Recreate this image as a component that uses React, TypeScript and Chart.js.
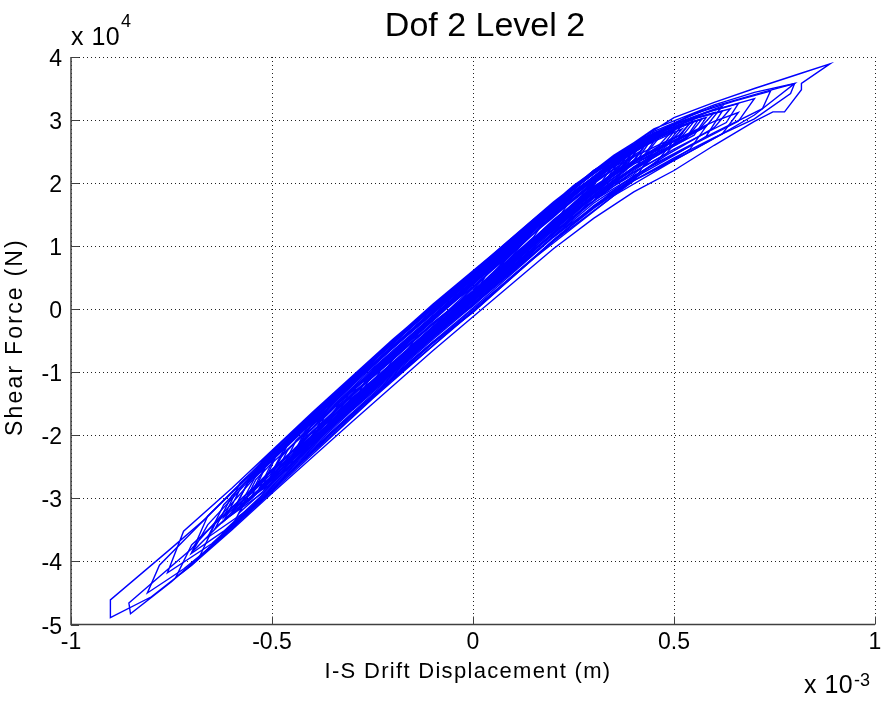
import React, { useEffect, useRef } from "react";
import { Chart, registerables } from "chart.js";

Chart.register(...registerables);

// Axis ticks (drift in 1e-3 m, shear in 1e4 N)
const xTickValues = [-1, -0.5, 0, 0.5, 1];
const xTickLabels = ["-1", "-0.5", "0", "0.5", "1"];
const yTickValues = [-5, -4, -3, -2, -1, 0, 1, 2, 3, 4];
const yTickLabels = ["-5", "-4", "-3", "-2", "-1", "0", "1", "2", "3", "4"];

const titleText = "Dof 2 Level 2";
const xLabelText = "I-S Drift Displacement (m)";
const yLabelText = "Shear Force (N)";

// Large cycles: [drift (x1e-3 m), shear (x1e4 N)]
const burstA: [number, number][] = [
  [0.0, 0.3],
  [0.1, 1.03], [0.2, 1.6], [0.3, 2.1], [0.4, 2.5], [0.45, 2.66],
  [0.41, 2.3], [0.3, 1.78], [0.2, 1.25], [0.0, 0.12], [-0.2, -0.96], [-0.4, -2.12], [-0.52, -2.76],
  [-0.48, -2.18], [-0.3, -1.09], [-0.1, 0.04], [0.1, 1.1], [0.25, 1.92], [0.4, 2.6], [0.5, 2.94], [0.62, 3.14],
  [0.58, 2.74], [0.5, 2.44], [0.4, 2.08], [0.3, 1.64], [0.1, 0.54], [-0.1, -0.54], [-0.3, -1.66], [-0.5, -2.84], [-0.65, -3.72], [-0.76, -4.18],
  [-0.72, -3.52], [-0.6, -2.84], [-0.4, -1.64], [-0.2, -0.48], [0.0, 0.6], [0.2, 1.7], [0.35, 2.44], [0.5, 3.04], [0.6, 3.28], [0.7, 3.5], [0.82, 3.75], [0.888, 3.89],
  [0.817, 3.58], [0.817, 3.48], [0.775, 3.13], [0.746, 3.13], [0.7, 2.98], [0.6, 2.6], [0.5, 2.2], [0.4, 1.86], [0.3, 1.44], [0.2, 0.96], [0.1, 0.42], [0.0, -0.12], [-0.1, -0.66], [-0.3, -1.78], [-0.5, -2.92], [-0.6, -3.5], [-0.7, -4.06], [-0.8, -4.56], [-0.902, -4.89],
  [-0.902, -4.61], [-0.756, -3.82], [-0.665, -3.32], [-0.5, -2.26], [-0.3, -1.06], [-0.1, 0.08], [0.1, 1.14], [0.3, 2.2], [0.45, 2.86], [0.6, 3.24], [0.7, 3.44], [0.8, 3.58],
  [0.79, 3.42], [0.7, 3.02], [0.6, 2.72], [0.5, 2.4], [0.4, 2.04], [0.2, 1.08], [0.0, -0.04], [-0.2, -1.12], [-0.4, -2.28], [-0.6, -3.46], [-0.75, -4.32], [-0.852, -4.83],
  [-0.856, -4.66], [-0.7, -3.8], [-0.55, -2.72], [-0.35, -1.44], [-0.15, -0.24], [0.05, 0.86], [0.25, 1.96], [0.4, 2.64], [0.55, 3.1], [0.65, 3.3], [0.74, 3.46],
  [0.72, 3.18], [0.6, 2.8], [0.45, 2.3], [0.3, 1.72], [0.1, 0.6], [-0.1, -0.48], [-0.3, -1.6], [-0.5, -2.8], [-0.62, -3.52], [-0.7, -3.87],
  [-0.66, -3.42], [-0.5, -2.32], [-0.3, -1.1], [-0.1, 0.02], [0.1, 1.08], [0.3, 2.16], [0.45, 2.8], [0.58, 3.12], [0.66, 3.26],
  [0.63, 2.96], [0.5, 2.54], [0.35, 1.98], [0.15, 0.94], [-0.05, -0.16], [-0.25, -1.28], [-0.45, -2.44], [-0.62, -3.36],
  [-0.58, -2.86], [-0.4, -1.74], [-0.2, -0.58], [0.0, 0.5], [0.2, 1.6], [0.35, 2.36], [0.48, 2.84], [0.58, 3.04],
  [0.55, 2.76], [0.42, 2.32], [0.25, 1.54], [0.05, 0.4], [-0.15, -0.68], [-0.35, -1.82], [-0.55, -2.96],
  [-0.51, -2.42], [-0.35, -1.46], [-0.15, -0.34], [0.05, 0.74], [0.25, 1.84], [0.4, 2.52], [0.52, 2.86],
  [0.48, 2.58], [0.35, 2.04], [0.15, 0.98], [-0.05, -0.12], [-0.25, -1.22], [-0.48, -2.5],
];

const burstB: [number, number][] = [
  [-0.1, -0.25],
  [0.1, 0.95], [0.3, 2.06], [0.45, 2.7], [0.55, 2.98],
  [0.51, 2.66], [0.4, 2.2], [0.2, 1.22], [0.0, 0.1], [-0.2, -1.0], [-0.4, -2.16], [-0.52, -2.9], [-0.6, -3.26],
  [-0.56, -2.74], [-0.4, -1.72], [-0.2, -0.54], [0.0, 0.56], [0.2, 1.66], [0.35, 2.4], [0.5, 2.92], [0.6, 3.16], [0.7, 3.34],
  [0.66, 2.98], [0.55, 2.62], [0.4, 2.12], [0.2, 1.14], [0.0, 0.02], [-0.2, -1.06], [-0.4, -2.22], [-0.56, -3.18], [-0.66, -3.62],
  [-0.62, -3.1], [-0.45, -1.98], [-0.25, -0.78], [-0.05, 0.32], [0.15, 1.42], [0.3, 2.2], [0.45, 2.82], [0.6, 3.22], [0.72, 3.44], [0.8, 3.58],
  [0.7, 3.08], [0.62, 2.78], [0.5, 2.36], [0.35, 1.8], [0.15, 0.8], [-0.05, -0.3], [-0.25, -1.42], [-0.45, -2.6], [-0.62, -3.6], [-0.72, -4.12], [-0.81, -4.5],
  [-0.78, -4.06], [-0.65, -3.22], [-0.45, -2.0], [-0.25, -0.82], [-0.05, 0.28], [0.15, 1.4], [0.3, 2.16], [0.45, 2.76], [0.56, 3.04], [0.64, 3.18],
  [0.6, 2.88], [0.48, 2.44], [0.3, 1.68], [0.1, 0.62], [-0.1, -0.46], [-0.3, -1.58], [-0.5, -2.74],
  [-0.46, -2.22], [-0.3, -1.18], [-0.1, -0.04], [0.1, 1.04], [0.3, 2.1], [0.42, 2.6], [0.5, 2.82],
  [0.46, 2.5], [0.32, 1.9], [0.12, 0.84], [-0.08, -0.28], [-0.28, -1.4], [-0.45, -2.4],
  [-0.41, -1.9], [-0.25, -0.88], [-0.05, 0.22], [0.15, 1.3], [0.32, 2.14], [0.42, 2.52],
  [0.38, 2.2], [0.22, 1.42], [0.02, 0.32], [-0.18, -0.8], [-0.38, -1.94],
];

const mediumCycles: [number, number][] = [
  [0.0, 0.28],
  [0.2, 1.5], [0.35, 2.28], [0.48, 2.8], [0.56, 3.0],
  [0.53, 2.72], [0.4, 2.26], [0.2, 1.28], [0.0, 0.16], [-0.2, -0.92], [-0.4, -2.08], [-0.5, -2.68], [-0.58, -3.12],
  [-0.54, -2.64], [-0.4, -1.8], [-0.2, -0.62], [0.0, 0.48], [0.2, 1.58], [0.35, 2.34], [0.46, 2.76], [0.54, 2.96],
  [0.5, 2.62], [0.38, 2.16], [0.2, 1.32], [0.0, 0.2], [-0.2, -0.9], [-0.4, -2.06], [-0.55, -3.0], [-0.64, -3.46],
  [-0.6, -2.96], [-0.45, -2.02], [-0.25, -0.88], [-0.05, 0.22], [0.15, 1.32], [0.32, 2.18], [0.46, 2.76], [0.57, 3.02],
  [0.53, 2.7], [0.4, 2.22], [0.22, 1.4], [0.02, 0.28], [-0.18, -0.82], [-0.38, -1.98], [-0.52, -2.84], [-0.6, -3.22],
  [-0.56, -2.76], [-0.4, -1.74], [-0.2, -0.58], [0.0, 0.52], [0.2, 1.62], [0.36, 2.38], [0.47, 2.78],
  [0.43, 2.46], [0.28, 1.82], [0.08, 0.7], [-0.12, -0.4], [-0.32, -1.54], [-0.5, -2.62],
  [-0.46, -2.14], [-0.28, -1.04], [-0.08, 0.1], [0.12, 1.18], [0.3, 2.1], [0.44, 2.7],
  [0.4, 2.36], [0.25, 1.64], [0.05, 0.5], [-0.15, -0.6], [-0.35, -1.76], [-0.53, -2.82],
  [-0.49, -2.3], [-0.32, -1.28], [-0.12, -0.14], [0.08, 0.96], [0.26, 1.92], [0.38, 2.44],
];

const smallCycles: [number, number][] = [
  [-0.05, 0.02],
  [0.1, 0.95], [0.25, 1.82], [0.35, 2.3],
  [0.32, 2.02], [0.15, 1.05], [-0.05, -0.06], [-0.2, -0.9], [-0.32, -1.6],
  [-0.29, -1.24], [-0.1, -0.12], [0.1, 1.0], [0.25, 1.84], [0.38, 2.42],
  [0.35, 2.12], [0.2, 1.32], [0.0, 0.2], [-0.2, -0.92], [-0.3, -1.48], [-0.4, -2.06],
  [-0.37, -1.72], [-0.2, -0.66], [0.0, 0.45], [0.2, 1.56], [0.3, 2.08], [0.4, 2.52],
  [0.37, 2.24], [0.2, 1.36], [0.0, 0.24], [-0.2, -0.86], [-0.36, -1.8],
  [-0.33, -1.46], [-0.15, -0.4], [0.05, 0.72], [0.2, 1.54], [0.3, 2.06],
  [0.27, 1.8], [0.1, 0.82], [-0.1, -0.32], [-0.25, -1.18],
  [-0.22, -0.86], [-0.05, 0.12], [0.12, 1.08], [0.25, 1.8],
  [0.22, 1.52], [0.05, 0.54], [-0.12, -0.44], [-0.28, -1.36],
  [-0.25, -1.02], [-0.08, -0.02], [0.1, 1.0], [0.22, 1.66], [0.32, 2.14],
  [0.29, 1.88], [0.12, 0.92], [-0.08, -0.22], [-0.22, -0.98], [-0.34, -1.7],
  [-0.31, -1.36], [-0.12, -0.28], [0.08, 0.86], [0.25, 1.8], [0.36, 2.32],
  [0.33, 2.04], [0.18, 1.24], [-0.02, 0.1], [-0.22, -1.0], [-0.35, -1.7], [-0.44, -2.26],
  [-0.41, -1.96], [-0.25, -0.98], [-0.05, 0.14], [0.15, 1.26], [0.3, 2.08], [0.44, 2.66],
  [0.41, 2.38], [0.25, 1.58], [0.05, 0.46], [-0.15, -0.66], [-0.35, -1.82], [-0.47, -2.46],
  [-0.44, -2.08], [-0.25, -0.94], [-0.05, 0.18], [0.15, 1.28], [0.3, 2.08], [0.4, 2.52],
  [0.36, 2.18], [0.18, 1.18], [-0.02, 0.06], [-0.2, -0.96], [-0.3, -1.52],
  [-0.27, -1.16], [-0.1, -0.18], [0.05, 0.68], [0.18, 1.42],
  [0.15, 1.14], [0.0, 0.26], [-0.15, -0.6], [-0.22, -1.0],
  [-0.19, -0.7], [-0.05, 0.1], [0.1, 0.96],
  [0.07, 0.68], [-0.08, -0.16], [-0.16, -0.62],
  [-0.13, -0.34], [0.04, 0.62],
  [0.01, 0.3], [-0.1, -0.3],
];

// Cycles riding on the upper side of the band
const upperDriftCycles: [number, number][] = [
  [-0.1, 0.0],
  [0.0, 0.49], [0.1, 1.1], [0.2, 1.62], [0.3, 2.19], [0.4, 2.58], [0.5, 2.86],
  [0.46, 2.58], [0.4, 2.34], [0.3, 1.95], [0.2, 1.38], [0.1, 0.86], [0.0, 0.25], [-0.1, -0.24], [-0.2, -0.76], [-0.3, -1.37], [-0.4, -1.95], [-0.45, -2.32],
  [-0.41, -1.9], [-0.3, -1.08], [-0.2, -0.56], [-0.1, 0.04], [0.0, 0.53], [0.1, 1.06], [0.2, 1.66], [0.3, 2.15], [0.4, 2.62], [0.5, 2.9], [0.55, 3.02],
  [0.51, 2.74], [0.4, 2.36], [0.3, 1.91], [0.2, 1.42], [0.1, 0.82], [0.0, 0.29], [-0.1, -0.22], [-0.2, -0.8], [-0.3, -1.33], [-0.4, -1.96], [-0.5, -2.58],
  [-0.46, -2.1], [-0.4, -1.68], [-0.3, -1.13], [-0.2, -0.52], [-0.1, 0.0], [0.0, 0.53], [0.1, 1.05], [0.2, 1.66], [0.3, 2.15], [0.4, 2.62], [0.45, 2.76],
  [0.41, 2.46], [0.3, 1.93], [0.2, 1.38], [0.1, 0.86], [0.0, 0.25], [-0.1, -0.24], [-0.2, -0.78], [-0.3, -1.35], [-0.4, -1.94], [-0.5, -2.56], [-0.55, -2.9],
  [-0.51, -2.4], [-0.4, -1.68], [-0.3, -1.09], [-0.2, -0.56], [-0.1, 0.04], [0.0, 0.49], [0.1, 1.1], [0.2, 1.62], [0.3, 2.19], [0.4, 2.58], [0.5, 2.94], [0.6, 3.12],
  [0.56, 2.84], [0.5, 2.66], [0.4, 2.34], [0.3, 1.94], [0.2, 1.4], [0.1, 0.82], [0.0, 0.28], [-0.1, -0.24], [-0.2, -0.8], [-0.3, -1.36], [-0.4, -2.0],
  [-0.36, -1.56], [-0.3, -1.12], [-0.2, -0.54], [-0.1, 0.02], [0.0, 0.52], [0.1, 1.08], [0.2, 1.64], [0.3, 2.16], [0.42, 2.62],
  [0.38, 2.3], [0.3, 1.92], [0.2, 1.38], [0.1, 0.84], [0.0, 0.26], [-0.1, -0.22], [-0.2, -0.78], [-0.3, -1.36], [-0.35, -1.68],
];

// Cycles riding on the lower side of the band
const lowerDriftCycles: [number, number][] = [
  [0.0, 0.2],
  [0.1, 0.93], [0.2, 1.46], [0.3, 2.02], [0.4, 2.42], [0.48, 2.66],
  [0.44, 2.36], [0.4, 2.14], [0.3, 1.76], [0.2, 1.18], [0.1, 0.66], [0.0, 0.05], [-0.1, -0.4], [-0.2, -0.99], [-0.3, -1.53], [-0.4, -2.16], [-0.52, -2.86],
  [-0.48, -2.36], [-0.4, -1.84], [-0.3, -1.29], [-0.2, -0.68], [-0.1, -0.16], [0.0, 0.36], [0.1, 0.9], [0.2, 1.5], [0.3, 1.99], [0.4, 2.44],
  [0.36, 2.1], [0.3, 1.72], [0.2, 1.22], [0.1, 0.62], [0.0, 0.08], [-0.1, -0.44], [-0.2, -0.96], [-0.3, -1.56], [-0.4, -2.12], [-0.5, -2.76], [-0.58, -3.22],
  [-0.54, -2.7], [-0.5, -2.44], [-0.4, -1.88], [-0.3, -1.25], [-0.2, -0.72], [-0.1, -0.12], [0.0, 0.34], [0.1, 0.94], [0.2, 1.46], [0.3, 2.03], [0.4, 2.42], [0.52, 2.78],
  [0.48, 2.46], [0.4, 2.18], [0.3, 1.72], [0.2, 1.2], [0.1, 0.62], [0.0, 0.09], [-0.1, -0.44], [-0.2, -0.98], [-0.3, -1.54], [-0.46, -2.54],
  [-0.42, -2.02], [-0.3, -1.27], [-0.2, -0.68], [-0.1, -0.14], [0.0, 0.36], [0.1, 0.92], [0.2, 1.48], [0.3, 2.0], [0.36, 2.26],
  [0.32, 1.92], [0.2, 1.2], [0.1, 0.64], [0.0, 0.06], [-0.1, -0.42], [-0.2, -0.98], [-0.3, -1.56], [-0.42, -2.3],
  [-0.38, -1.86], [-0.3, -1.28], [-0.2, -0.7], [-0.1, -0.13], [0.0, 0.35], [0.1, 0.92], [0.2, 1.47], [0.3, 1.98],
  [0.26, 1.64], [0.2, 1.22], [0.1, 0.63], [0.0, 0.07], [-0.1, -0.43], [-0.2, -0.97], [-0.3, -1.58],
];

// Cycles shifted toward the lower-right edge of the band
const lowerEdgeCycles: [number, number][] = [
  [-0.2, -0.8],
  [-0.1, -0.22], [0.0, 0.27], [0.1, 0.82], [0.2, 1.4], [0.3, 1.91], [0.4, 2.36], [0.5, 2.66], [0.58, 2.9],
  [0.54, 2.54], [0.5, 2.38], [0.4, 2.04], [0.3, 1.6], [0.2, 1.1], [0.1, 0.52], [0.0, -0.05], [-0.1, -0.54], [-0.2, -1.1], [-0.3, -1.66], [-0.4, -2.26], [-0.5, -2.86], [-0.6, -3.44], [-0.68, -3.92],
  [-0.64, -3.38], [-0.6, -3.14], [-0.5, -2.56], [-0.4, -1.94], [-0.3, -1.37], [-0.2, -0.78], [-0.1, -0.24], [0.0, 0.26], [0.1, 0.84], [0.2, 1.38], [0.3, 1.93], [0.4, 2.34], [0.5, 2.68],
  [0.46, 2.36], [0.4, 2.06], [0.3, 1.62], [0.2, 1.08], [0.1, 0.54], [0.0, -0.04], [-0.1, -0.52], [-0.2, -1.08], [-0.3, -1.68], [-0.4, -2.24], [-0.5, -2.88], [-0.6, -3.46], [-0.7, -4.06], [-0.74, -4.26],
  [-0.7, -3.74], [-0.6, -3.16], [-0.5, -2.54], [-0.4, -1.96], [-0.3, -1.35], [-0.2, -0.8], [-0.1, -0.22], [0.0, 0.28], [0.1, 0.82], [0.2, 1.4], [0.3, 1.92], [0.4, 2.36], [0.5, 2.68], [0.6, 2.98], [0.66, 3.12],
  [0.62, 2.78], [0.5, 2.36], [0.4, 2.04], [0.3, 1.62], [0.2, 1.08], [0.1, 0.54], [0.0, -0.04], [-0.1, -0.54], [-0.2, -1.08], [-0.3, -1.66], [-0.4, -2.26], [-0.5, -2.86], [-0.6, -3.46],
  [-0.56, -2.94], [-0.5, -2.56], [-0.4, -1.96], [-0.3, -1.36], [-0.2, -0.78], [-0.1, -0.24], [0.0, 0.26], [0.1, 0.84], [0.2, 1.4], [0.3, 1.92], [0.45, 2.52],
  [0.41, 2.14], [0.3, 1.62], [0.2, 1.1], [0.1, 0.52], [0.0, -0.04], [-0.1, -0.52], [-0.2, -1.1], [-0.3, -1.66], [-0.4, -2.24], [-0.5, -2.86],
];

// Cycles shifted toward the upper-left edge of the band
const upperEdgeCycles: [number, number][] = [
  [0.1, 0.86],
  [0.2, 1.64], [0.3, 2.2], [0.4, 2.58],
  [0.36, 2.24], [0.3, 1.88], [0.2, 1.34], [0.1, 0.79], [0.0, 0.2], [-0.1, -0.29], [-0.2, -0.85], [-0.3, -1.4], [-0.4, -2.0], [-0.5, -2.6], [-0.62, -3.3],
  [-0.58, -2.76], [-0.5, -2.3], [-0.4, -1.66], [-0.3, -1.1], [-0.2, -0.51], [-0.1, 0.05], [0.0, 0.52], [0.1, 1.11], [0.2, 1.65], [0.3, 2.19], [0.4, 2.61], [0.52, 2.92],
  [0.48, 2.6], [0.4, 2.3], [0.3, 1.86], [0.2, 1.35], [0.1, 0.77], [0.0, 0.22], [-0.1, -0.28], [-0.2, -0.85], [-0.3, -1.42], [-0.4, -2.0], [-0.5, -2.6], [-0.6, -3.22], [-0.7, -3.86],
  [-0.66, -3.28], [-0.6, -2.9], [-0.5, -2.28], [-0.4, -1.68], [-0.3, -1.09], [-0.2, -0.52], [-0.1, 0.04], [0.0, 0.53], [0.1, 1.1], [0.2, 1.66], [0.34, 2.34],
  [0.3, 1.98], [0.2, 1.34], [0.1, 0.78], [0.0, 0.21], [-0.1, -0.28], [-0.2, -0.84], [-0.3, -1.41], [-0.45, -2.34],
  [-0.41, -1.84], [-0.3, -1.1], [-0.2, -0.52], [-0.1, 0.04], [0.0, 0.53], [0.1, 1.1], [0.2, 1.66], [0.3, 2.19], [0.4, 2.62], [0.5, 2.94], [0.62, 3.22],
  [0.58, 2.9], [0.5, 2.62], [0.4, 2.3], [0.3, 1.87], [0.2, 1.34], [0.1, 0.78], [0.0, 0.21], [-0.1, -0.28], [-0.2, -0.84], [-0.3, -1.42],
];

const FONT = '"Liberation Sans", Arial, Helvetica, sans-serif';
const LINE_COLOR = "#0000ff";

export default function App() {
  const ref = useRef<HTMLCanvasElement>(null);

  useEffect(() => {
    document.body.style.margin = "0";
    const canvas = ref.current;
    if (!canvas) return;

    const mk = (arr: [number, number][]) => ({
      data: arr.map(([x, y]) => ({ x, y })),
      showLine: true,
      borderColor: LINE_COLOR,
      borderWidth: 1.4,
      pointRadius: 0,
      pointHoverRadius: 0,
      fill: false,
      tension: 0,
    });

    const textPlugin = {
      id: "matlabDecor",
      afterDraw(chart: any) {
        const ctx: CanvasRenderingContext2D = chart.ctx;
        const { left, right, top, bottom } = chart.chartArea;
        const xs = chart.scales.x;
        const ys = chart.scales.y;
        ctx.save();
        ctx.strokeStyle = "#404040";
        ctx.lineWidth = 1.5;
        ctx.beginPath();
        ctx.moveTo(left, top);
        ctx.lineTo(left, bottom);
        ctx.lineTo(right, bottom);
        ctx.stroke();
        ctx.lineWidth = 1;
        ctx.beginPath();
        xTickValues.forEach((v) => {
          const px = Math.round(xs.getPixelForValue(v)) + 0.5;
          ctx.moveTo(px, bottom);
          ctx.lineTo(px, bottom - 8);
        });
        yTickValues.forEach((v) => {
          const py = Math.round(ys.getPixelForValue(v)) + 0.5;
          ctx.moveTo(left, py);
          ctx.lineTo(left + 8, py);
        });
        ctx.stroke();

        const txt = (s: string, x: number, y: number, size: number, align: CanvasTextAlign, spacing = 0) => {
          ctx.font = `${size}px ${FONT}`;
          ctx.textAlign = align;
          ctx.textBaseline = "alphabetic";
          (ctx as any).letterSpacing = `${spacing}px`;
          ctx.fillText(s, x, y);
        };
        ctx.fillStyle = "#000";
        xTickValues.forEach((v, i) => txt(xTickLabels[i], xs.getPixelForValue(v), 649, 23, "center"));
        yTickValues.forEach((v, i) => txt(yTickLabels[i], 62, ys.getPixelForValue(v) + 9, 23, "right"));

        txt(titleText, 485, 36, 34, "center");
        txt("x 10", 71, 45, 25, "left", 0.5);
        txt("4", 121, 27, 18, "left");
        txt("x 10", 804, 693, 25, "left", 0.5);
        txt("-3", 854, 686, 18, "left");

        txt(xLabelText, 468, 678, 22, "center", 1.3);
        ctx.save();
        ctx.translate(22, 337);
        ctx.rotate(-Math.PI / 2);
        txt(yLabelText, 0, 0, 23, "center", 2.2);
        ctx.restore();
        ctx.restore();
      },
    };

    const chart = new Chart(canvas, {
      type: "scatter",
      data: {
        datasets: [
          mk(burstA),
          mk(burstB),
          mk(mediumCycles),
          mk(smallCycles),
          mk(upperDriftCycles),
          mk(lowerDriftCycles),
          mk(lowerEdgeCycles),
          mk(upperEdgeCycles),
        ] as any,
      },
      options: {
        responsive: false,
        maintainAspectRatio: false,
        animation: false,
        layout: { padding: { top: 57, right: 7, left: 0, bottom: 0 } },
        plugins: {
          legend: { display: false },
          tooltip: { enabled: false },
          title: { display: false },
        },
        scales: {
          x: {
            type: "linear",
            min: -1,
            max: 1,
            afterBuildTicks: (s: any) => {
              s.ticks = xTickValues.map((v) => ({ value: v }));
            },
            afterFit: (s: any) => {
              s.height = 83.5;
            },
            ticks: { display: false },
            grid: { color: "#222", lineWidth: 1, drawTicks: false },
            border: { display: false, dash: [1, 3] },
          },
          y: {
            type: "linear",
            min: -5,
            max: 4,
            afterBuildTicks: (s: any) => {
              s.ticks = yTickValues.map((v) => ({ value: v }));
            },
            afterFit: (s: any) => {
              s.width = 71;
            },
            ticks: { display: false },
            grid: { color: "#222", lineWidth: 1, drawTicks: false },
            border: { display: false, dash: [1, 3] },
          },
        },
      } as any,
      plugins: [textPlugin],
    });
    return () => chart.destroy();
  }, []);

  return <canvas ref={ref} width={882} height={708} style={{ display: "block" }} />;
}
